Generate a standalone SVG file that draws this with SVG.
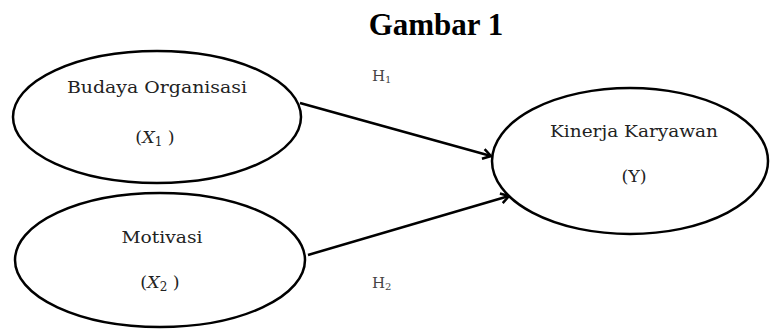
<svg xmlns="http://www.w3.org/2000/svg" width="770" height="331" viewBox="0 0 770 331">
<style>
.node{fill:#fff;stroke:#000;stroke-width:2.5}
.lbl{font-family:"DejaVu Serif",serif;font-size:17.5px;fill:#222;text-anchor:middle}
.h{font-family:"DejaVu Serif",serif;font-size:15px;fill:#444}
.conn{stroke:#000;stroke-width:2.5;fill:none;marker-end:url(#ah)}
</style>
<defs>
<marker id="ah" markerWidth="12" markerHeight="12" refX="9" refY="6" orient="auto" markerUnits="userSpaceOnUse">
<path d="M1,1 L9,6 L1,11" fill="none" stroke="#000" stroke-width="2.5"/>
</marker>
</defs>
<rect width="770" height="331" fill="#fff"/>
<text x="436" y="35" font-family="Liberation Serif,serif" font-size="31" font-weight="bold" text-anchor="middle">Gambar 1</text>
<g id="connectors">
<line class="conn" x1="300" y1="103" x2="491" y2="156"/>
<line class="conn" x1="308" y1="255" x2="509" y2="196"/>
</g>
<g id="node-x1">
<ellipse class="node" cx="157" cy="117" rx="144" ry="66"/>
<text class="lbl" x="157" y="93" textLength="180" lengthAdjust="spacingAndGlyphs">Budaya Organisasi</text>
<text class="lbl" x="155" y="143" font-size="19">(<tspan font-style="italic">X</tspan><tspan font-size="12" dy="3">1</tspan><tspan dy="-3"> )</tspan></text>
</g>
<g id="node-x2">
<ellipse class="node" cx="160" cy="260" rx="145" ry="67"/>
<text class="lbl" x="162" y="243" textLength="81" lengthAdjust="spacingAndGlyphs">Motivasi</text>
<text class="lbl" x="160" y="288" font-size="19">(<tspan font-style="italic">X</tspan><tspan font-size="12" dy="3">2</tspan><tspan dy="-3"> )</tspan></text>
</g>
<g id="node-y">
<ellipse class="node" cx="630" cy="161" rx="138" ry="73"/>
<text class="lbl" x="634" y="137" textLength="168" lengthAdjust="spacingAndGlyphs">Kinerja Karyawan</text>
<text class="lbl" x="634" y="182" font-size="19">(Y)</text>
</g>
<text class="h" x="372" y="81">H<tspan font-size="10" dy="2">1</tspan></text>
<text class="h" x="372" y="288">H<tspan font-size="10" dy="2">2</tspan></text>
</svg>
